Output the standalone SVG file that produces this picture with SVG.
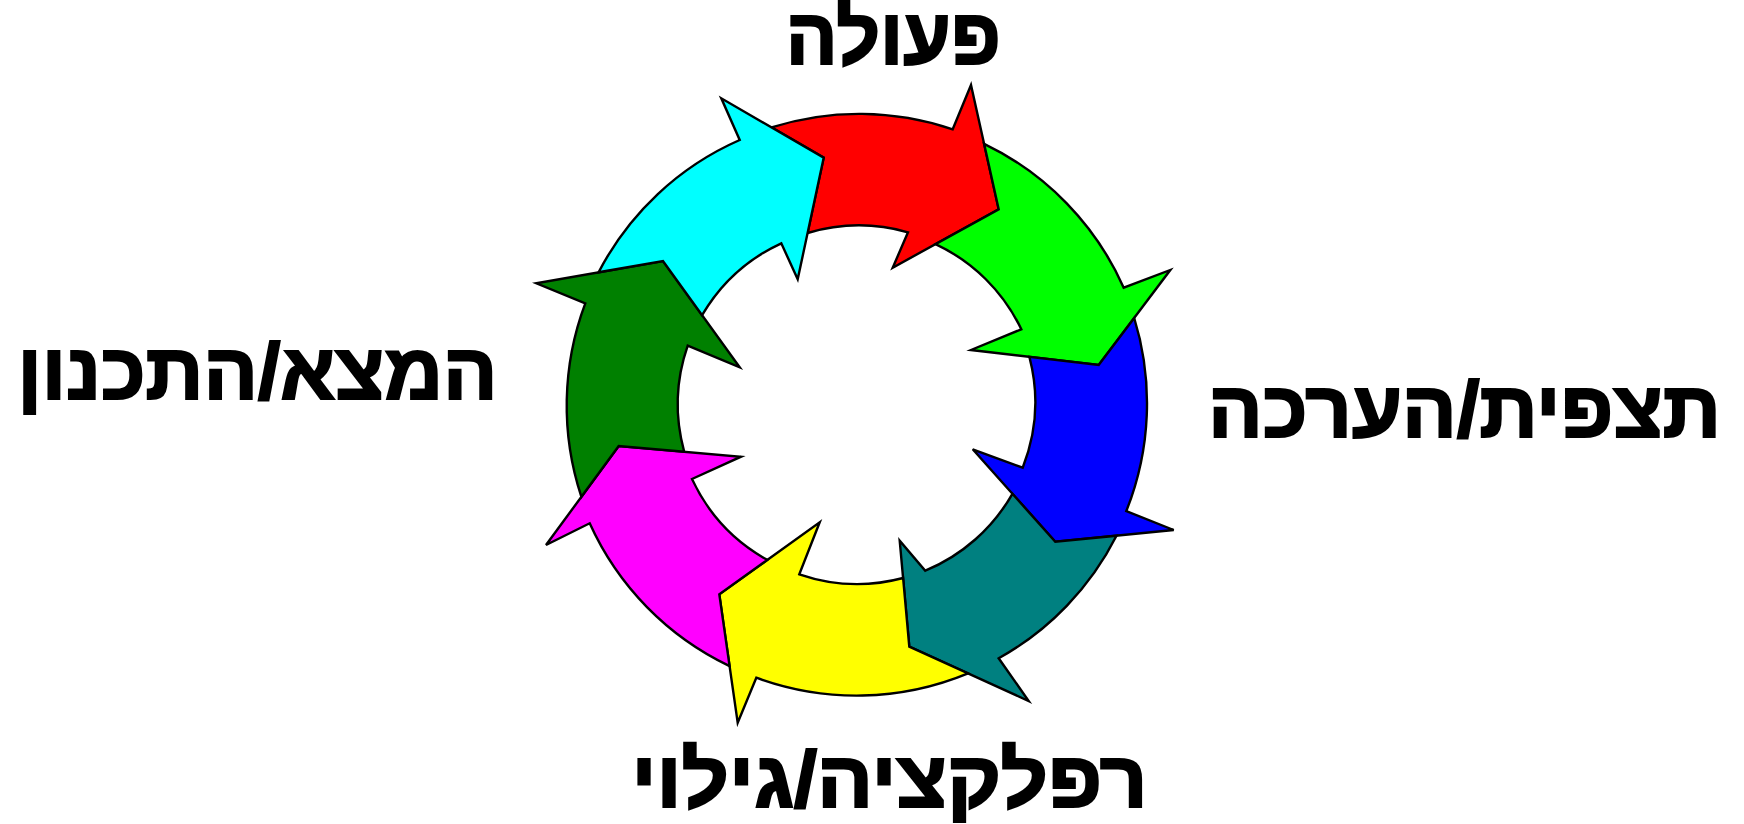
<svg xmlns="http://www.w3.org/2000/svg" width="1744" height="824" viewBox="0 0 1744 824">
  <style>
    .arrow { stroke: #000; stroke-width: 2.4; stroke-linejoin: miter; }
    .label { font-family: "Liberation Sans", "DejaVu Sans", sans-serif; font-weight: bold; font-size: 79px; fill: #000; stroke: #000; stroke-width: 2.2; stroke-linejoin: miter; text-anchor: middle; }
  </style>
  <rect width="1744" height="824" fill="#fff"/>
  <g id="connectors">
    <g id="arrow-red">
      <path class="arrow" fill="#FF0000" d="M 771.5 127.4 A 290.5 290.5 0 0 1 952.7 129.3 L 971 85 L 998.7 209.3 L 892.7 267.7 L 908 232.3 A 179 179 0 0 0 807.6 233 L 823.7 157.7 Z"/>
    </g>
    <g id="arrow-green">
      <path class="arrow" fill="#00FF00" d="M 984.1 143.8 A 290.5 290.5 0 0 1 1123.7 287.7 L 1170.3 270 L 1098.7 365 L 971 350 L 1021.3 329.3 A 179 179 0 0 0 935.5 244.1 L 998.7 209.3 Z"/>
    </g>
    <g id="arrow-blue">
      <path class="arrow" fill="#0000FF" d="M 1134.2 318 A 290.5 290.5 0 0 1 1126.3 511 L 1173.7 530 L 1055.3 541.7 L 972.7 449.3 L 1022.7 467.7 A 179 179 0 0 0 1029.4 356.9 L 1098.7 365 Z"/>
    </g>
    <g id="arrow-teal">
      <path class="arrow" fill="#008080" d="M 1116.5 535.7 A 290.5 290.5 0 0 1 998.7 658.3 L 1028.7 701 L 909.3 646.7 L 899.7 540.7 L 925.3 570.7 A 179 179 0 0 0 1012.4 493.8 L 1055.3 541.7 Z"/>
    </g>
    <g id="arrow-yellow">
      <path class="arrow" fill="#FFFF00" d="M 968.1 673.4 A 290.5 290.5 0 0 1 756.3 677.7 L 737.7 722.7 L 719.3 594.3 L 819.7 522.3 L 799.3 574.3 A 179 179 0 0 0 903.1 578 L 909.3 646.7 Z"/>
    </g>
    <g id="arrow-magenta">
      <path class="arrow" fill="#FF00FF" d="M 729.6 666.1 A 290.5 290.5 0 0 1 589.7 523.3 L 546 545 L 618.7 446 L 741 456.7 L 692 479 A 179 179 0 0 0 767.3 559.9 L 719.3 594.3 Z"/>
    </g>
    <g id="arrow-darkgreen">
      <path class="arrow" fill="#008000" d="M 581.4 496.8 A 290.5 290.5 0 0 1 585.3 303.3 L 536.3 283.3 L 663 261 L 739.7 367.3 L 687.7 345.7 A 179 179 0 0 0 684.2 451.7 L 618.7 446 Z"/>
    </g>
    <g id="arrow-cyan">
      <path class="arrow" fill="#00FFFF" d="M 598.6 272.3 A 290.5 290.5 0 0 1 739.7 140 L 721.3 98.3 L 823.7 157.7 L 797.7 279.3 L 781.3 243.3 A 179 179 0 0 0 702.1 315.2 L 663 261 Z"/>
    </g>
  </g>
  <g id="label-action">
    <text class="label" x="893.3" y="64" textLength="215" lengthAdjust="spacingAndGlyphs">פעולה</text>
  </g>
  <g id="label-observation">
    <text class="label" x="1464.5" y="437" textLength="513" lengthAdjust="spacingAndGlyphs">תצפית/הערכה</text>
  </g>
  <g id="label-reflection">
    <text class="label" x="889.5" y="807" textLength="516" lengthAdjust="spacingAndGlyphs">רפלקציה/גילוי</text>
  </g>
  <g id="label-invention">
    <text class="label" x="257.5" y="399" textLength="480" lengthAdjust="spacingAndGlyphs">המצא/התכנון</text>
  </g>
</svg>
